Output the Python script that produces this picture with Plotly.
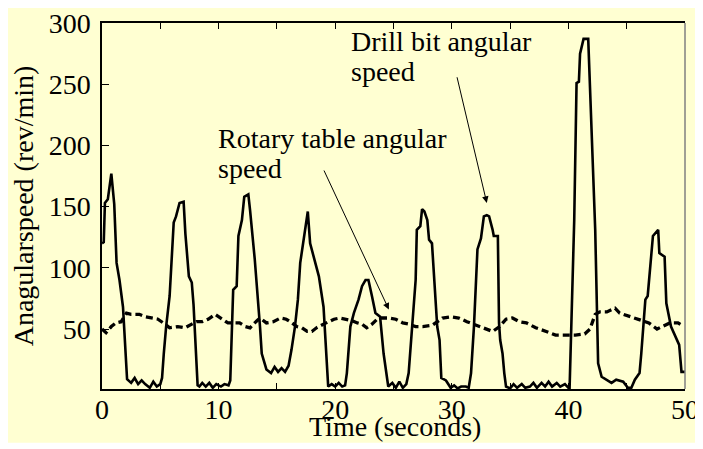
import plotly.graph_objects as go

# Drill bit angular speed (solid line)
drill_t = [0.0, 0.15, 0.25, 0.5, 0.8, 1.05, 1.25, 1.5, 1.8, 2.15,
           2.5, 2.8, 3.1, 3.4, 3.7, 4.1, 4.4, 4.7, 5.0, 5.15,
           5.3, 5.5, 5.8, 6.15, 6.35, 6.65, 7.0, 7.15, 7.45, 7.7, 7.85, 8.2,
           8.35, 8.6, 8.9, 9.2, 9.5, 9.8, 10.2, 10.5, 10.85, 11.0,
           11.25, 11.55, 11.7, 12.0, 12.2, 12.55, 12.7, 13.1, 13.55, 13.7, 14.1,
           14.5, 14.8, 15.1, 15.4, 15.7, 16.0,
           16.25, 16.55, 16.8, 17.0, 17.45, 17.65, 17.85, 18.3, 18.6, 19.0, 19.4,
           19.7, 20.0, 20.3, 20.6, 20.85,
           21.0, 21.3, 21.6, 22.0, 22.3, 22.6, 22.85, 23.15, 23.45, 23.85, 24.15, 24.55,
           24.9, 25.2, 25.5, 25.8, 26.1,
           26.3, 26.6, 26.9, 27.0, 27.3, 27.45, 27.65, 27.9, 28.05, 28.3, 28.5, 28.75, 28.95, 29.1,
           29.5, 29.9, 30.2, 30.5, 30.8, 31.2, 31.45, 31.55,
           31.65, 31.9, 32.2, 32.5, 32.75, 33.0, 33.2, 33.5, 33.6, 33.95, 34.05, 34.15, 34.35, 34.5, 34.65,
           35.0, 35.3, 35.6, 36.0, 36.3, 36.7, 37.0, 37.3, 37.7, 38.0, 38.3, 38.6, 39.0, 39.3, 39.7, 40.0,
           40.1, 40.5, 40.7, 40.9, 41.0, 41.3, 41.7, 42.3, 42.55, 42.85, 43.3, 43.7, 44.1, 44.7,
           45.1, 45.4, 45.7, 46.1, 46.25, 46.6, 46.8, 47.1, 47.25, 47.7, 47.8, 48.25, 48.4, 48.8,
           49.5, 49.7, 50.0]
drill_speed = [120, 121, 153, 156, 177, 152, 104, 90, 68, 9,
               6, 10, 5, 8, 5, 2, 7, 3, 5, 10,
               30, 52, 77, 137, 142, 153, 154, 128, 93, 88, 70, 4,
               3, 6, 3, 6, 2, 5, 3, 5, 4, 8,
               82, 85, 126, 139, 158, 160, 147, 107, 52, 30, 17,
               14, 19, 15, 18, 15, 20,
               33, 52, 74, 104, 134, 146, 120, 104, 93, 68, 3,
               5, 3, 6, 3, 4,
               14, 52, 63, 74, 85, 90, 90, 77, 63, 60, 30, 3,
               6, 2, 7, 2, 5,
               14, 52, 90, 131, 134, 148, 146, 139, 123, 120, 90, 52, 41, 10,
               8, 2, 4, 1.5, 3, 3, 2, 8,
               14, 52, 115, 124, 142, 143, 142, 131, 126, 126, 55, 41, 30, 14, 3,
               1.5, 5, 2, 5, 2, 3, 6, 2, 6, 3, 7, 3, 6, 3, 5, 2,
               1, 139, 251, 252, 275, 287, 287, 131, 22, 11, 8.6, 6, 8.6, 7,
               2, 2, 8.6, 14, 30, 74, 77, 111, 126, 131, 112, 109, 71, 52,
               37, 15, 15]

# Rotary table angular speed (dashed line)
rotary_t = [0.0, 0.35, 0.8, 1.2, 1.65, 2.1, 2.5, 3.2, 3.7, 4.2, 4.8, 5.4, 5.8, 6.5, 7.1, 7.7,
            8.1, 8.6, 9.1, 9.7, 10.3, 10.8, 11.3, 11.8, 12.3, 12.7, 13.1, 13.55, 14.1, 14.7,
            15.3, 15.8, 16.3, 16.7, 17.15, 17.6, 18.0, 18.4, 19.0, 19.4, 19.9, 20.4, 21.0,
            21.4, 21.9, 22.3, 22.7, 23.15, 23.6, 24.0, 24.6, 25.2, 25.8, 26.3, 26.9, 27.5,
            28.3, 28.8, 29.2, 29.9, 30.6, 31.3, 31.9, 32.5, 33.0, 33.5, 34.1, 34.65, 35.2,
            35.8, 36.4, 37.2, 38.1, 38.9, 39.8, 40.6, 41.4, 41.85, 42.3, 42.7, 43.3, 44.0,
            44.4, 45.3, 46.1, 46.9, 47.6, 48.1, 48.7, 49.4, 49.9]
rotary_speed = [50, 47, 52, 55, 56, 63, 62, 62, 60, 59, 58, 54, 51, 52, 51, 54,
                56, 56, 58, 62, 58, 55, 55, 55, 52, 51, 55, 59, 55, 56,
                59, 58, 55, 52, 51, 48, 48, 51, 54, 56, 58, 59, 58,
                57, 55, 54, 51, 54, 58, 59, 59, 58, 55, 54, 52, 52,
                53, 56, 59, 60, 59, 56, 54, 52, 50, 48, 52, 58, 59,
                56, 55, 51, 48, 45, 45, 45, 46, 50, 62, 64, 64, 67,
                63, 60, 58, 55, 50, 52, 55, 55, 52]

y_tick_vals = [50, 100, 150, 200, 250, 300]
x_tick_vals = [0, 10, 20, 30, 40, 50]

BG = "#FFFFD2"
FONT = "Liberation Serif, Times New Roman, serif"
FS = 28

fig = go.Figure()
fig.add_trace(go.Scatter(x=drill_t, y=drill_speed, mode="lines",
                         line=dict(color="black", width=2.6), showlegend=False))
fig.add_trace(go.Scatter(x=rotary_t, y=rotary_speed, mode="lines",
                         line=dict(color="black", width=3.3, dash="7px,4px"), showlegend=False))

# page body has an 8px margin, so the figure is 8px smaller and offsets are shifted
fig.update_layout(
    width=695, height=441,
    margin=dict(l=94, r=18, t=15, b=60, autoexpand=False),
    paper_bgcolor="white", plot_bgcolor=BG,
    font=dict(family=FONT, size=FS, color="black"),
    showlegend=False,
)
fig.update_xaxes(range=[0, 50], tickvals=x_tick_vals, ticks="inside", ticklen=6,
                 tickcolor="black", tickwidth=1, automargin=False,
                 minor=dict(dtick=5, ticks="inside", ticklen=6, tickcolor="black", tickwidth=1),
                 showline=True, linecolor="black", linewidth=1.5, mirror="ticks",
                 showgrid=False, zeroline=False, ticklabeloverflow="allow",
                 ticklabelstandoff=-5)
fig.update_yaxes(range=[1, 300], tickvals=y_tick_vals, ticks="inside", ticklen=7,
                 tickcolor="black", tickwidth=1, automargin=False,
                 showline=True, linecolor="black", linewidth=1.5, mirror=False,
                 showgrid=False, zeroline=False, ticklabeloverflow="allow",
                 ticklabelstandoff=4,
                 title=dict(text="Anagularspeed (rev/min)", standoff=8, font=dict(size=FS)))

# yellow card behind the whole chart
fig.add_shape(type="rect", xref="paper", yref="paper", x0=-0.2, x1=1.1, y0=-0.147, y1=1.1,
              fillcolor=BG, line=dict(width=0), layer="below")
# right border in grey
fig.add_shape(type="line", xref="paper", yref="paper", x0=1, x1=1, y0=0, y1=1,
              line=dict(color="#808080", width=1.5))

# x-axis title
fig.add_annotation(x=0.503, y=-0.103, xref="paper", yref="paper", text="Time (seconds)",
                   showarrow=False, xanchor="center", yanchor="middle", font=dict(size=FS))

# labels
fig.add_annotation(x=9.77, y=205.8, xref="x", yref="y", text="Rotary table angular",
                   showarrow=False, xanchor="left", yanchor="middle", font=dict(size=FS))
fig.add_annotation(x=9.77, y=181.3, xref="x", yref="y", text="speed",
                   showarrow=False, xanchor="left", yanchor="middle", font=dict(size=FS))
fig.add_annotation(x=21.18, y=284.8, xref="x", yref="y", text="Drill bit angular",
                   showarrow=False, xanchor="left", yanchor="middle", font=dict(size=FS))
fig.add_annotation(x=21.18, y=260.3, xref="x", yref="y", text="speed",
                   showarrow=False, xanchor="left", yanchor="middle", font=dict(size=FS))

# arrows
fig.add_annotation(x=24.6, y=66, ax=18.98, ay=180.7, xref="x", yref="y", axref="x", ayref="y",
                   text="", showarrow=True, arrowhead=2, arrowsize=1.3, arrowwidth=1,
                   arrowcolor="black", standoff=0, startstandoff=0)
fig.add_annotation(x=33.0, y=153, ax=30.42, ay=256.9, xref="x", yref="y", axref="x", ayref="y",
                   text="", showarrow=True, arrowhead=2, arrowsize=1.3, arrowwidth=1,
                   arrowcolor="black", standoff=0, startstandoff=0)

fig.write_html("out.html")
